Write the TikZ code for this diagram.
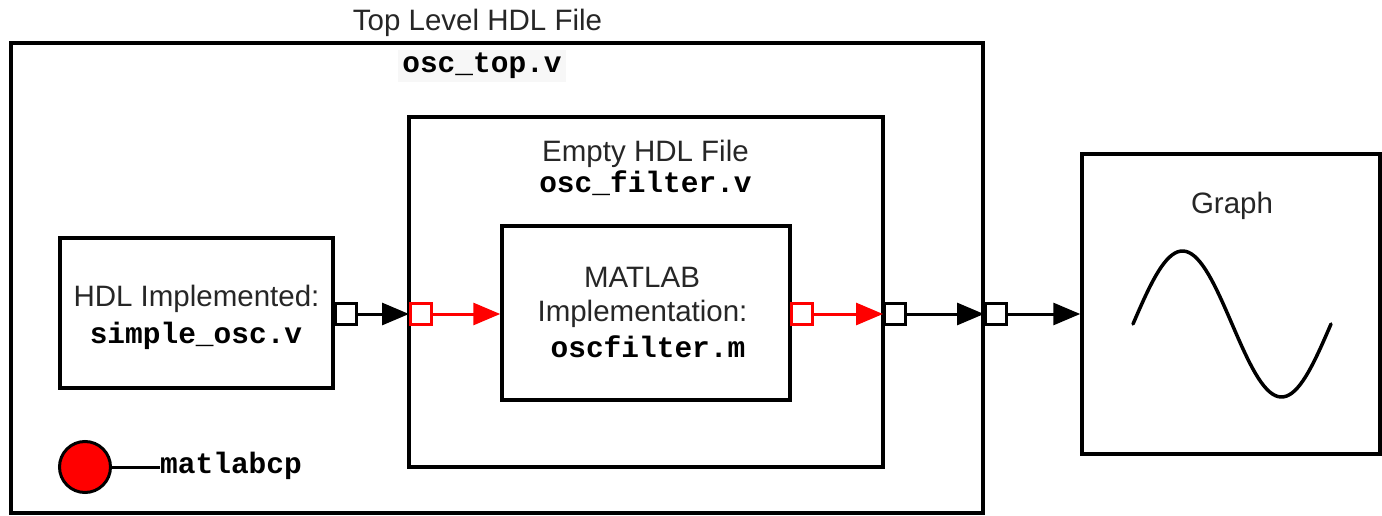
\documentclass[tikz,border=0pt]{standalone}
\usepackage{fontspec}
\setmainfont{Liberation Sans}
\setmonofont{Liberation Mono}
\usetikzlibrary{arrows.meta}
\begin{document}
\begin{tikzpicture}[x=1pt,y=-1pt,
  box/.style={draw, line width=3.5pt, inner sep=0pt, fill=none},
  sanslbl/.style={font=\fontsize{29.5}{34}\selectfont, text=black!85, anchor=base, inner sep=0pt},
  codelbl/.style={font=\fontsize{29.5}{34}\selectfont\ttfamily\bfseries, anchor=base, inner sep=0pt},
  port/.style={draw, line width=3pt, fill=white, minimum size=21pt, inner sep=0pt},
  redport/.style={port, draw=red},
  link/.style={line width=3pt, -{Triangle[length=27pt,width=22pt]}},
  redlink/.style={link, draw=red, color=red}
]
\useasboundingbox (0,0) rectangle (1382,516);

% boxes
\node[box, minimum width=972pt, minimum height=470pt] (outer) at (497,278) {};
\node[box, minimum width=474pt, minimum height=350pt] (inner) at (646,292) {};
\node[box, minimum width=288pt, minimum height=174pt] (matlab) at (646,313) {};
\node[box, minimum width=273pt, minimum height=150pt] (hdl) at (196.5,313) {};
\node[box, minimum width=298pt, minimum height=300pt] (graph) at (1231,304) {};

% texts
\node[sanslbl] (ttop) at (477.5,31) {Top Level HDL File};
\node[codelbl, fill=black!3, inner xsep=4pt, inner ysep=3pt] (ctop) at (482,73) {osc\_top.v};
\node[sanslbl] (tempty) at (645.5,162) {Empty HDL File};
\node[codelbl] (cfilt) at (645.5,193) {osc\_filter.v};
\node[sanslbl] (thdl) at (196.5,306) {HDL Implemented:};
\node[codelbl] (csimple) at (196,343) {simple\_osc.v};
\node[sanslbl] (tmat) at (642,287) {MATLAB};
\node[sanslbl] (timpl) at (642.5,321) {Implementation:};
\node[codelbl] (cosc) at (648,357) {oscfilter.m};
\node[sanslbl] (tgraph) at (1232,213) {Graph};

% sine
\draw[line width=3.5pt, line cap=round] plot[domain=0:360, samples=72] ({1133 + \x*0.55}, {324 - 73*sin(\x)});

% ports
\node[port] (p1) at (346,314) {};
\node[redport] (p2) at (421,314) {};
\node[redport] (p3) at (802,314) {};
\node[port] (p4) at (895,314) {};
\node[port] (p5) at (996,314) {};

\draw[link] (p1.east) -- (p2.west);
\draw[redlink] (p2.east) -- (p2.east -| matlab.west);
\draw[redlink] (p3.east) -- (p4.west);
\draw[link] (p4.east) -- (p5.west);
\draw[link] (p5.east) -- (p5.east -| graph.west);

% matlabcp
\node[draw, line width=3pt, fill=red, circle, minimum size=51pt, inner sep=0pt] (mcp) at (85,467) {};
\node[codelbl, anchor=base west] (mlabel) at (160,473) {matlabcp};
\draw[line width=3pt] (mcp.east) -- (mcp.east -| mlabel.west);
\end{tikzpicture}
\end{document}
